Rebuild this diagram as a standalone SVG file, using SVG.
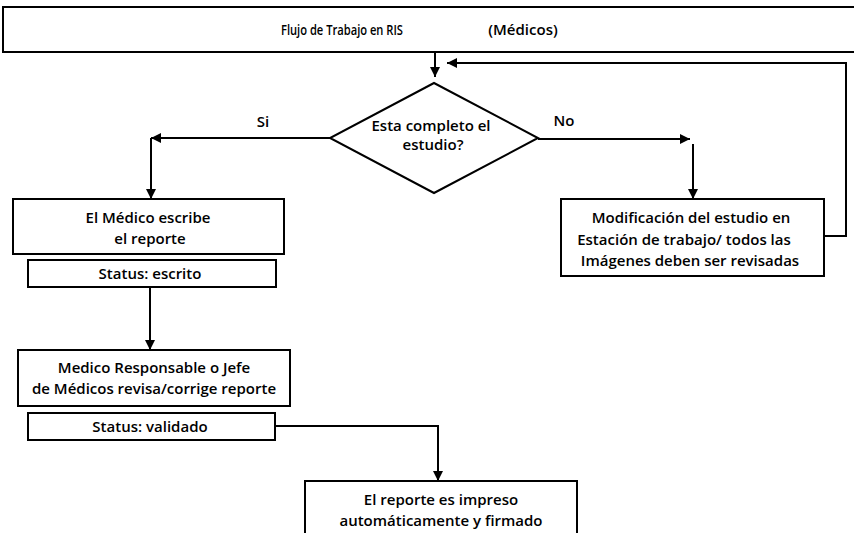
<svg xmlns="http://www.w3.org/2000/svg" width="854" height="533" viewBox="0 0 854 533">
  <defs>
    <marker id="arrow" viewBox="0 0 10 10" refX="10" refY="5" markerWidth="5" markerHeight="5" orient="auto-start-reverse" markerUnits="strokeWidth">
      <path d="M0,0 L10,5 L0,10 z" fill="#000"/>
    </marker>
    <style>
      .box { fill: #fff; stroke: #000; stroke-width: 2; }
      .lbl { font-family: "Open Sans", "DejaVu Sans", sans-serif; font-size: 15px; font-weight: 600; fill: #000; text-anchor: middle; }
      .edge { fill: none; stroke: #000; stroke-width: 2; }
      .arr { marker-end: url(#arrow); }
    </style>
  </defs>
  <rect width="854" height="533" fill="#fff"/>

  <!-- header -->
  <g id="title">
    <rect class="box" x="3" y="7" width="870" height="45"/>
    <text class="lbl" x="342" y="35" font-size="16" textLength="122" lengthAdjust="spacingAndGlyphs">Flujo de Trabajo en RIS</text>
    <text class="lbl" x="523" y="35">(Médicos)</text>
  </g>

  <!-- decision -->
  <g id="decision">
    <polygon class="box" points="434,83 538,138 434,193 330,138"/>
    <text class="lbl" x="431" y="131">Esta completo el</text>
    <text class="lbl" x="433" y="150">estudio?</text>
  </g>

  <g id="write-report">
    <rect class="box" x="13" y="199" width="271" height="55"/>
    <text class="lbl" x="148" y="223">El Médico escribe</text>
    <text class="lbl" x="150" y="244">el reporte</text>
  </g>

  <g id="status-written">
    <rect class="box" x="28" y="260" width="248" height="27"/>
    <text class="lbl" x="150" y="279">Status: escrito</text>
  </g>

  <g id="review">
    <rect class="box" x="18" y="350" width="272" height="56"/>
    <text class="lbl" x="154" y="373">Medico Responsable o Jefe</text>
    <text class="lbl" x="154" y="394">de Médicos revisa/corrige reporte</text>
  </g>

  <g id="status-validated">
    <rect class="box" x="28" y="413" width="247" height="27"/>
    <text class="lbl" x="150" y="432">Status: validado</text>
  </g>

  <g id="print">
    <rect class="box" x="305" y="481" width="272" height="60"/>
    <text class="lbl" x="441" y="505">El reporte es impreso</text>
    <text class="lbl" x="441" y="526">automáticamente y firmado</text>
  </g>

  <g id="modify">
    <rect class="box" x="561" y="199" width="263" height="77"/>
    <text class="lbl" x="691" y="223">Modificación del estudio en</text>
    <text class="lbl" x="684" y="245">Estación de trabajo/ todos las</text>
    <text class="lbl" x="690" y="266">Imágenes deben ser revisadas</text>
  </g>

  <!-- connectors -->
  <g id="connectors">
    <line class="edge arr" x1="435" y1="52" x2="435" y2="77"/>
    <polyline class="edge arr" points="824,236 846,236 846,63 447,63"/>
    <line class="edge arr" x1="330" y1="138" x2="151" y2="138"/>
    <line class="edge arr" x1="151" y1="138" x2="151" y2="199"/>
    <line class="edge arr" x1="538" y1="139" x2="690" y2="139"/>
    <line class="edge arr" x1="693" y1="144" x2="693" y2="199"/>
    <line class="edge arr" x1="150" y1="287" x2="150" y2="350"/>
    <polyline class="edge arr" points="275,426 438,426 438,481"/>
    <text class="lbl" x="263" y="127">Si</text>
    <text class="lbl" x="564" y="126">No</text>
  </g>
</svg>
